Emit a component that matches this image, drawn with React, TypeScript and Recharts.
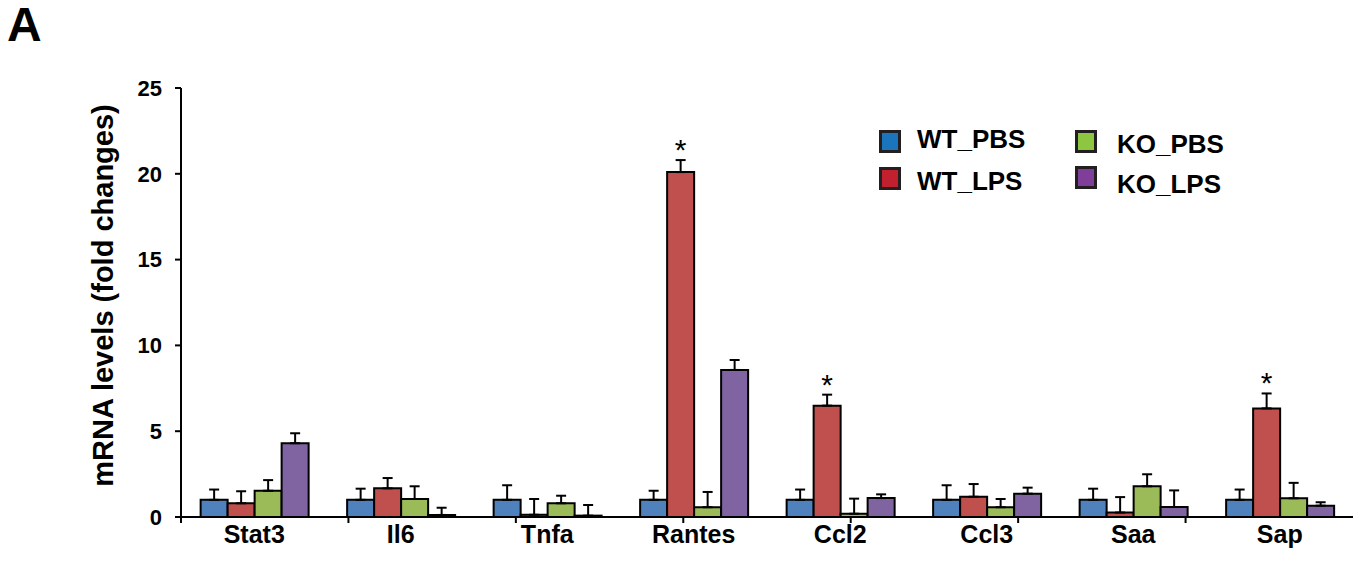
import { BarChart, Bar, XAxis, YAxis, ErrorBar, LabelList } from 'recharts';

// ---------------------------------------------------------------------------
// Data
// ---------------------------------------------------------------------------

const GENES = ['Stat3', 'Il6', 'Tnfa', 'Rantes', 'Ccl2', 'Ccl3', 'Saa', 'Sap'];

const WT_PBS = [1.0, 1.0, 1.0, 1.0, 1.0, 1.0, 1.0, 1.0];
const WT_PBS_ERR = [0.6, 0.65, 0.85, 0.53, 0.6, 0.85, 0.65, 0.6];

const WT_LPS = [0.8, 1.67, 0.13, 20.1, 6.49, 1.18, 0.26, 6.33];
const WT_LPS_ERR = [0.7, 0.6, 0.92, 0.7, 0.64, 0.74, 0.9, 0.87];

const KO_PBS = [1.53, 1.05, 0.8, 0.57, 0.19, 0.57, 1.79, 1.09];
const KO_PBS_ERR = [0.62, 0.74, 0.44, 0.89, 0.88, 0.48, 0.7, 0.9];

const KO_LPS = [4.3, 0.12, 0.08, 8.57, 1.1, 1.36, 0.58, 0.66];
const KO_LPS_ERR = [0.58, 0.42, 0.62, 0.58, 0.22, 0.35, 0.97, 0.2];

// significance marks above WT_LPS
const SIG = ['', '', '', '*', '*', '', '', '*'];

const Y_TICKS = [0, 5, 10, 15, 20, 25];
const SEP_TICKS = [0, 1, 2, 3, 4, 5, 6, 7, 8];

const SERIES = [
  { key: 'wtPbs', err: 'wtPbsErr', name: 'WT_PBS', fill: '#4f81bd', legend: '#1b75bc' },
  { key: 'wtLps', err: 'wtLpsErr', name: 'WT_LPS', fill: '#c0504d', legend: '#c1202f' },
  { key: 'koPbs', err: 'koPbsErr', name: 'KO_PBS', fill: '#9bbb59', legend: '#8dc63f' },
  { key: 'koLps', err: 'koLpsErr', name: 'KO_LPS', fill: '#8064a2', legend: '#7f3f98' },
];

const FONT = '"Liberation Sans", Arial, Helvetica, sans-serif';

// one-sided (upward) error bars: [low, high]
const data = GENES.map((gene, i) => ({
  gene,
  wtPbs: WT_PBS[i],
  wtPbsErr: [0, WT_PBS_ERR[i]],
  wtLps: WT_LPS[i],
  wtLpsErr: [0, WT_LPS_ERR[i]],
  koPbs: KO_PBS[i],
  koPbsErr: [0, KO_PBS_ERR[i]],
  koLps: KO_LPS[i],
  koLpsErr: [0, KO_LPS_ERR[i]],
}));

// asterisk drawn at the top of the error bar
function SigMark(props: any) {
  const { x, y, width, height, value, index } = props;
  if (!SIG[index] || !value) return null;
  const errPx = (WT_LPS_ERR[index] * height) / value;
  return (
    <text
      x={x + width / 2}
      y={y - errPx}
      textAnchor="middle"
      fontSize={30}
      fontFamily={FONT}
      fill="#000"
    >
      {SIG[index]}
    </text>
  );
}

function YLabel(props: any) {
  const vb = props.viewBox || {};
  const cx = 103;
  const cy = vb.y + vb.height / 2 - 7;
  return (
    <text
      x={cx}
      y={cy}
      transform={`rotate(-90, ${cx}, ${cy})`}
      textAnchor="middle"
      dominantBaseline="central"
      fontSize={29}
      fontWeight="bold"
      fontFamily={FONT}
      fill="#000"
    >
      mRNA levels (fold changes)
    </text>
  );
}

const NoTickLabel = () => <g />;

const LEGEND_POS = [
  { sq: [879, 130], text: [917, 148] },
  { sq: [879, 167], text: [917, 190] },
  { sq: [1075, 130], text: [1117, 153] },
  { sq: [1075, 166], text: [1117, 193] },
];

export default function App() {
  return (
    <div
      style={{
        position: 'absolute',
        left: 0,
        top: 0,
        width: 1359,
        height: 561,
        background: '#fff',
        fontFamily: FONT,
      }}
    >
      <div
        style={{
          position: 'absolute',
          left: 7,
          top: 1,
          fontSize: 48,
          fontWeight: 'bold',
          lineHeight: '48px',
        }}
      >
        A
      </div>

      <BarChart
        width={1359}
        height={561}
        data={data}
        margin={{ top: 88, right: 6, bottom: 0, left: 0 }}
        barCategoryGap="13.4%"
        barGap={0}
      >
        {/* separator ticks between the gene groups */}
        <XAxis
          xAxisId="a-sep"
          type="number"
          domain={[0, 8]}
          ticks={SEP_TICKS}
          allowDataOverflow
          height={1}
          tick={<NoTickLabel />}
          tickSize={6}
          axisLine={{ stroke: '#000', strokeWidth: 2 }}
          tickLine={{ stroke: '#000', strokeWidth: 2 }}
        />
        <XAxis
          xAxisId="b-cat"
          dataKey="gene"
          height={43}
          axisLine={false}
          tickLine={false}
          tickSize={5}
          tickMargin={2}
          interval={0}
          tick={{ fontSize: 25, fontWeight: 'bold', fill: '#000', fontFamily: FONT }}
        />
        <YAxis
          domain={[0, 25]}
          ticks={Y_TICKS}
          width={181}
          tickSize={6}
          tickMargin={13}
          axisLine={{ stroke: '#000', strokeWidth: 2 }}
          tickLine={{ stroke: '#000', strokeWidth: 2 }}
          tick={{ fontSize: 22, fontWeight: 'bold', fill: '#000', fontFamily: FONT }}
          label={<YLabel />}
        />
        {SERIES.map((s) => (
          <Bar
            key={s.key}
            xAxisId="b-cat"
            dataKey={s.key}
            name={s.name}
            fill={s.fill}
            stroke="#000"
            strokeWidth={2}
            isAnimationActive={false}
          >
            <ErrorBar
              dataKey={s.err}
              direction="y"
              width={5}
              stroke="#000"
              strokeWidth={2}
              isAnimationActive={false}
            />
            {s.key === 'wtLps' && <LabelList dataKey="wtLps" content={<SigMark />} />}
          </Bar>
        ))}
      </BarChart>

      {/* legend */}
      {SERIES.map((s, i) => (
        <div key={s.key}>
          <div
            style={{
              position: 'absolute',
              left: LEGEND_POS[i].sq[0],
              top: LEGEND_POS[i].sq[1],
              width: 16,
              height: 17,
              background: s.legend,
              border: '3px solid #231f20',
            }}
          />
          <div
            style={{
              position: 'absolute',
              left: LEGEND_POS[i].text[0],
              top: LEGEND_POS[i].text[1] - 22,
              fontSize: 26,
              lineHeight: '26px',
              fontWeight: 'bold',
              whiteSpace: 'nowrap',
            }}
          >
            {s.name}
          </div>
        </div>
      ))}
    </div>
  );
}
